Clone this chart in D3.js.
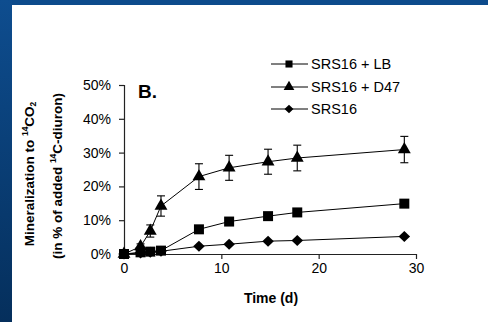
<!DOCTYPE html>
<html><head><meta charset="utf-8">
<script src="https://cdn.jsdelivr.net/npm/d3@7"></script>
<style>body{margin:0;background:#fff}svg{display:block}text{font-family:"Liberation Sans",Arial,sans-serif}</style>
</head><body><svg id="c" width="488" height="322"></svg>
<script>
const days = [0, 1.7, 2.7, 3.8, 7.7, 10.8, 14.8, 17.8, 28.8];
const seriesNames = ["SRS16 + LB", "SRS16 + D47", "SRS16"];
const lbValues = [0, 0.5, 0.7, 1.0, 7.3, 9.6, 11.2, 12.3, 14.9];
const d47Values = [0, 2.2, 6.8, 14.2, 22.9, 25.5, 27.3, 28.4, 30.9];
const d47Errors = [0, 0.8, 1.8, 3.0, 3.8, 3.7, 3.7, 3.8, 3.9];
const srsValues = [0, 0.3, 0.5, 0.8, 2.3, 2.9, 3.8, 4.0, 5.2];
const xTicks = [0, 10, 20, 30];
const yTicks = [0, 10, 20, 30, 40, 50];

const svg = d3.select("#c");
const defs = svg.append("defs");
const g1 = defs.append("linearGradient").attr("id","lg").attr("x1",0).attr("y1",0).attr("x2",0).attr("y2",1);
g1.append("stop").attr("offset","0%").attr("stop-color","#0e4d8f");
g1.append("stop").attr("offset","100%").attr("stop-color","#052f5c");
svg.append("rect").attr("x",0).attr("y",0).attr("width",488).attr("height",5).attr("fill","#0d4b8c");
svg.append("rect").attr("x",0).attr("y",0).attr("width",12).attr("height",322).attr("fill","url(#lg)");

const x = d3.scaleLinear().domain([0,30]).range([124,416]);
const y = d3.scaleLinear().domain([0,50]).range([254,85]);

const xa = svg.append("g").attr("transform","translate(0,254)")
  .call(d3.axisBottom(x).tickValues(xTicks).tickSize(5).tickPadding(4));
const ya = svg.append("g").attr("transform","translate(124,0)")
  .call(d3.axisLeft(y).tickValues(yTicks).tickSize(5).tickPadding(8).tickFormat(d=>d+"%"));
[xa,ya].forEach(a=>{
  a.select(".domain").attr("stroke","#222").attr("stroke-width",1.2);
  a.selectAll(".tick line").attr("stroke","#222").attr("stroke-width",1.2);
  a.selectAll("text").attr("font-size",14).attr("fill","#000").style("font-family","Liberation Sans, Arial");
});
ya.select(".domain").attr("d","M0.5,254V85");
xa.select(".domain").attr("d","M124,0.5H416");

const line = d3.line().x((d,i)=>x(days[i])).y(d=>y(d));
const wideDiamond = {draw(ctx, size){const r=Math.sqrt(size/2); ctx.moveTo(0,-r); ctx.lineTo(r*1.05,0); ctx.lineTo(0,r); ctx.lineTo(-r*1.05,0); ctx.closePath();}};
const series = [
  {vals: lbValues, sym: d3.symbolSquare, size: 100},
  {vals: d47Values, sym: d3.symbolTriangle, size: 72},
  {vals: srsValues, sym: wideDiamond, size: 60}
];

// error bars
const eb = svg.append("g").attr("stroke","#000").attr("stroke-width",1.1);
days.forEach((t,i)=>{
  const e = d47Errors[i]; if(!e) return;
  const cx = x(t), y1 = y(d47Values[i]+e), y2 = y(d47Values[i]-e);
  eb.append("line").attr("x1",cx).attr("x2",cx).attr("y1",y1).attr("y2",y2);
  eb.append("line").attr("x1",cx-4).attr("x2",cx+4).attr("y1",y1).attr("y2",y1);
  eb.append("line").attr("x1",cx-4).attr("x2",cx+4).attr("y1",y2).attr("y2",y2);
});

series.forEach(s=>{
  svg.append("path").attr("d",line(s.vals)).attr("fill","none").attr("stroke","#000").attr("stroke-width",1);
});
series.forEach(s=>{
  svg.append("g").selectAll("path").data(s.vals).join("path")
    .attr("transform",(d,i)=>`translate(${x(days[i])},${y(d)})`)
    .attr("d",d3.symbol().type(s.sym).size(s.size)).attr("fill","#000");
});

// legend
const legY = [64, 87, 109];
const legSizes = [50, 50, 36];
seriesNames.forEach((n,i)=>{
  const gy = legY[i];
  svg.append("line").attr("x1",271).attr("x2",308).attr("y1",gy).attr("y2",gy).attr("stroke","#000").attr("stroke-width",1);
  svg.append("path").attr("transform",`translate(289,${gy})`).attr("d",d3.symbol().type(series[i].sym).size(legSizes[i])).attr("fill","#000");
  svg.append("text").attr("x",311).attr("y",gy+5).attr("font-size",14.5).text(n);
});

svg.append("text").attr("x",138).attr("y",98).attr("font-size",19).attr("font-weight","bold").text("B.");
svg.append("text").attr("x",271).attr("y",303).attr("font-size",14).attr("font-weight","bold").attr("text-anchor","middle").text("Time (d)");

const t1 = svg.append("text").attr("transform","translate(34,174) rotate(-90)").attr("text-anchor","middle").attr("font-size",13.5).attr("font-weight","bold");
t1.append("tspan").text("Mineralization to  ");
t1.append("tspan").attr("font-size",8.5).attr("dy",-6).text("14");
t1.append("tspan").attr("dy",6).text("CO");
t1.append("tspan").attr("font-size",8.5).attr("dy",2).text("2");
const t2 = svg.append("text").attr("transform","translate(62,176) rotate(-90)").attr("text-anchor","middle").attr("font-size",13.5).attr("font-weight","bold");
t2.append("tspan").text("(in % of added  ");
t2.append("tspan").attr("font-size",8.5).attr("dy",-6).text("14");
t2.append("tspan").attr("dy",6).text("C-diuron)");
</script></body></html>
